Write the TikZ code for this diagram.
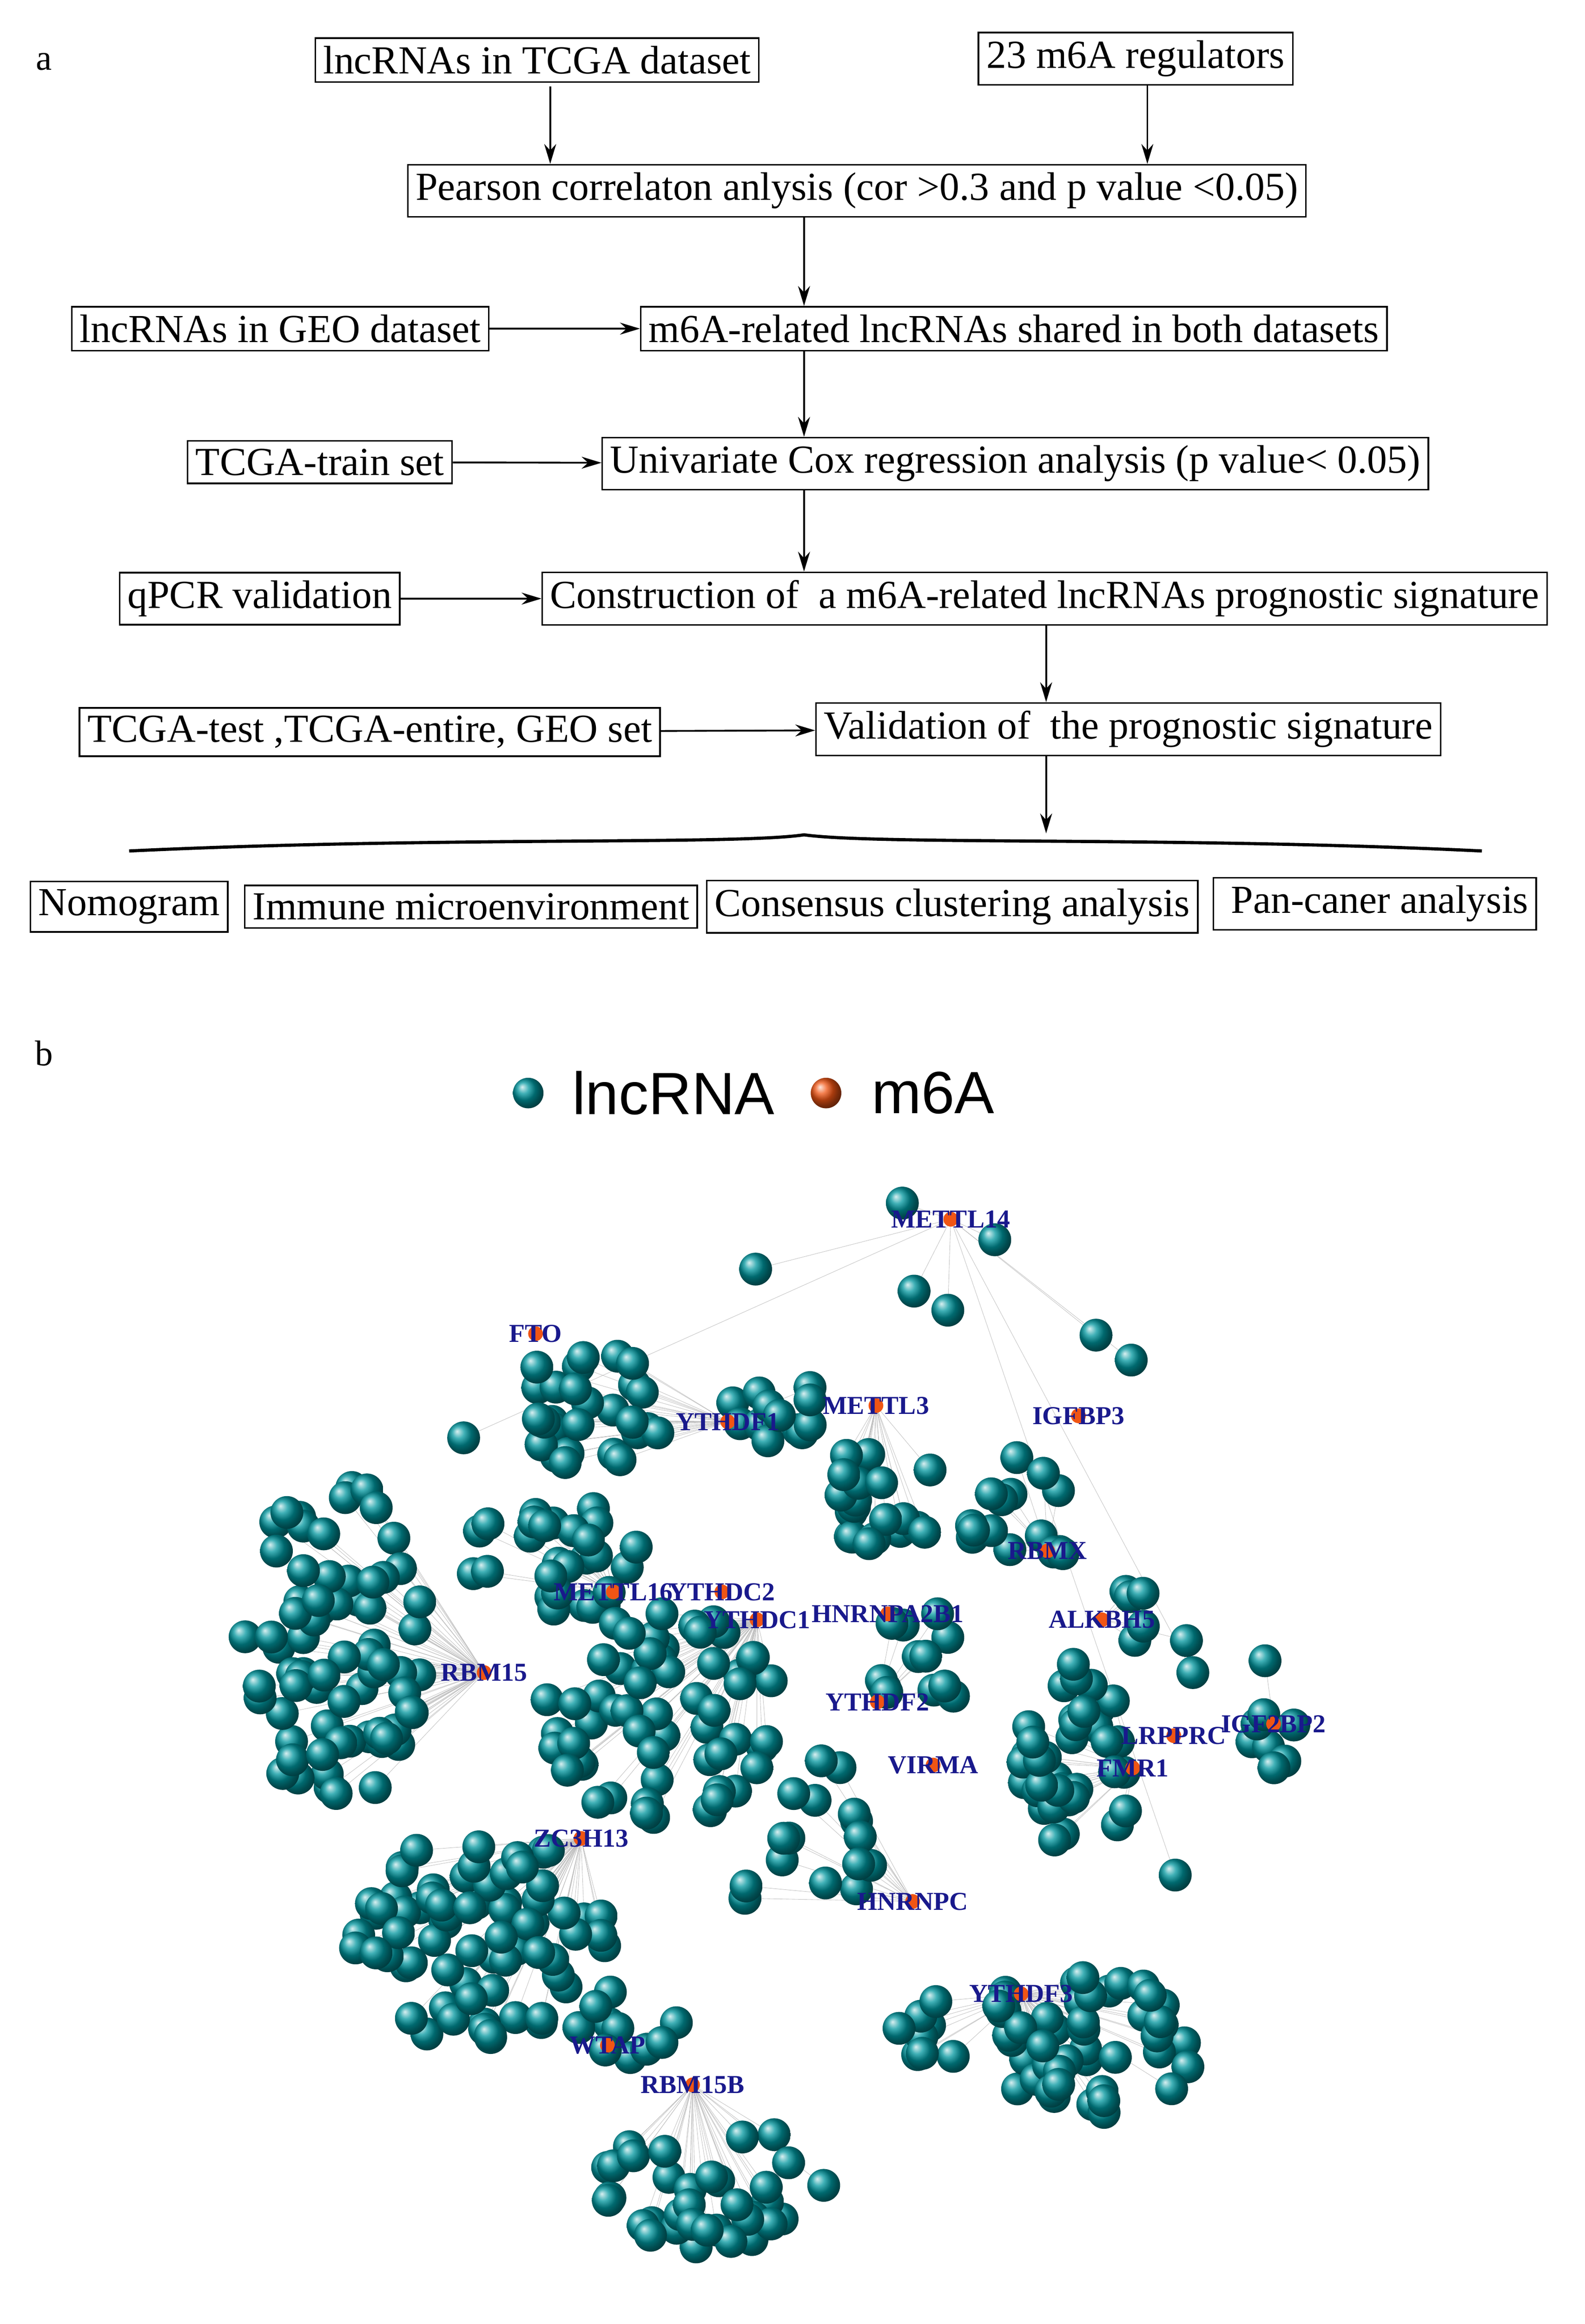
\documentclass[tikz,border=0pt]{standalone}
\usepackage{fontspec}
\setmainfont{Liberation Serif}
\newfontfamily\legendfont{Liberation Sans}
\usetikzlibrary{arrows,arrows.meta,shadings}
\definecolor{ballteal}{RGB}{0,150,158}
\definecolor{hubred}{RGB}{240,85,20}
\definecolor{hubblue}{RGB}{25,25,140}
\tikzstyle{box} = [rectangle, draw=black, line width=0.8pt, inner sep=4pt, font=\fontsize{20}{23}\selectfont]
\tikzstyle{arrow} = [line width=0.9pt,->,>={Stealth[length=10pt,width=6pt]}]
\tikzstyle{edge} = [gray!50, line width=0.2pt]
\tikzstyle{hublabel} = [font=\bfseries\fontsize{13}{14}\selectfont, text=hubblue, inner sep=0pt]
\begin{document}
\begin{tikzpicture}[x=0.02593cm, y=-0.02593cm]
		\useasboundingbox (0,0) rectangle (1080,1584);
		% flow chart
		\node at (30,42) [font=\fontsize{18}{20}\selectfont] {a};
		\node (tcga) at (366,41) [box] {lncRNAs in TCGA dataset};
		\node (regul) at (774,40) [box] {23 m6A regulators};
		\node (pearson) at (584,130) [box] {Pearson correlaton anlysis (cor >0.3 and p value <0.05)};
		\node (geo) at (191,224) [box] {lncRNAs in GEO dataset};
		\node (shared) at (691,224) [box] {m6A-related lncRNAs shared in both datasets};
		\node (train) at (218,315) [box] {TCGA-train set};
		\node (unicox) at (692,316) [box] {Univariate Cox regression analysis (p value< 0.05)};
		\node (qpcr) at (177,408) [box] {qPCR validation};
		\node (constr) at (712,408) [box] {Construction of\ \ a m6A-related lncRNAs prognostic signature};
		\node (sets) at (252,499) [box] {TCGA-test ,TCGA-entire, GEO set};
		\node (valid) at (769,497) [box] {Validation of\ \ the prognostic signature};
		\node (nomo) at (88,618) [box] {Nomogram};
		\node (immune) at (321,618) [box] {Immune microenvironment};
		\node (consens) at (649,618) [box] {Consensus clustering analysis};
		\node (pancan) at (937,616) [box] {\ Pan-caner analysis\ };
		\coordinate (tcgaout) at (375,59);
		\coordinate (regout) at (782,58);
		\coordinate (bracetip) at (713,568);
		\draw [arrow] (tcgaout) -- (tcgaout |- pearson.north);
		\draw [arrow] (regout) -- (regout |- pearson.north);
		\draw [arrow] (pearson.south -| 548,0) -- (shared.north -| 548,0);
		\draw [arrow] (geo) -- (shared);
		\draw [arrow] (shared.south -| 548,0) -- (unicox.north -| 548,0);
		\draw [arrow] (train) -- (unicox);
		\draw [arrow] (unicox.south -| 548,0) -- (constr.north -| 548,0);
		\draw [arrow] (qpcr) -- (constr);
		\draw [arrow] (constr.south -| bracetip) -- (valid.north -| bracetip);
		\draw [arrow] (sets) -- (valid);
		\draw [arrow] (valid.south -| bracetip) -- (bracetip);
		\draw [line width=1.6pt] (88,580) .. controls (300,570) and (500,576) .. (548,569) .. controls (600,576) and (800,570) .. (1010,580);
		% network
		\node at (30,718) [font=\fontsize{18}{20}\selectfont] {b};
		\shade [ball color=ballteal] (360,745) circle [radius=0.27cm];
		\node (leglnc) at (459,745) [font=\legendfont\fontsize{30}{32}\selectfont] {lncRNA};
		\shade [ball color=hubred] (563,745) circle [radius=0.27cm];
		\node (legm6a) at (636,745) [font=\legendfont\fontsize{30}{32}\selectfont] {m6A};
		\foreach \name/\px/\py in {METTL14/648/831, FTO/365/909, YTHDF1/496/969, METTL3/597/958,
			IGFBP3/735/965, RBMX/714/1057, ALKBH5/751/1104, METTL16/418/1085, YTHDC2/492/1085,
			YTHDC1/516/1104, HNRNPA2B1/605/1100, RBM15/330/1140, YTHDF2/598/1160, LRPPRC/800/1183,
			IGF2BP2/868/1175, VIRMA/636/1203, FMR1/772/1205, ZC3H13/396/1253, HNRNPC/622/1296,
			YTHDF3/696/1359, WTAP/414/1394, RBM15B/472/1421}
			\coordinate (\name) at (\px,\py);
		\pgfmathsetseed{7}
		\foreach \cx/\cy/\rx/\ry/\n/\hub [count=\k] in {
			228/1120/62/112/70/RBM15, 405/960/58/40/30/YTHDF1, 378/1062/60/38/28/METTL16,
			455/1170/85/72/60/YTHDC1, 528/958/30/28/12/YTHDF1, 598/1022/42/42/22/METTL3,
			700/1030/42/40/15/RBMX, 728/1205/45/82/36/FMR1, 866/1165/28/55/8/IGF2BP2,
			330/1322/88/72/70/ZC3H13, 485/1490/78/42/36/RBM15B, 742/1392/72/56/46/YTHDF3,
			545/1255/55/60/16/HNRNPC, 795/1095/38/38/6/ALKBH5, 628/1130/40/40/12/YTHDF2,
			430/1380/40/25/10/WTAP, 640/1380/30/25/8/YTHDF3}{
			\foreach \i in {1,...,\n}{
				\pgfmathsetmacro\ang{rnd*360}
				\pgfmathsetmacro\rad{sqrt(rnd)}
				\coordinate (b\k-\i) at ({\cx+\rx*\rad*cos(\ang)},{\cy+\ry*\rad*sin(\ang)});
				\draw [edge] (\hub) -- (b\k-\i);
			}
		}
		\foreach \px/\py [count=\k] in {615/820, 678/845, 515/865, 623/880, 646/893, 747/910, 771/927, 316/980, 813/1140, 801/1278}{
			\coordinate (s\k) at (\px,\py);
			\draw [edge] (METTL14) -- (s\k);
		}
		\foreach \n [count=\k] in {70,30,28,60,12,22,15,36,8,70,36,46,16,6,12,10,8}{
			\foreach \i in {1,...,\n}
				\shade [ball color=ballteal] (b\k-\i) circle [radius=0.29cm];
		}
		\foreach \k in {1,...,10}
			\shade [ball color=ballteal] (s\k) circle [radius=0.29cm];
		\foreach \name in {METTL14, FTO, YTHDF1, METTL3, IGFBP3, RBMX, ALKBH5, METTL16, YTHDC2,
			YTHDC1, HNRNPA2B1, RBM15, YTHDF2, LRPPRC, IGF2BP2, VIRMA, FMR1, ZC3H13, HNRNPC,
			YTHDF3, WTAP, RBM15B}{
			\fill [hubred] (\name) circle [radius=0.13cm];
			\node (lab\name) at (\name) [hublabel] {\name};
		}
	\end{tikzpicture}
\end{document}
